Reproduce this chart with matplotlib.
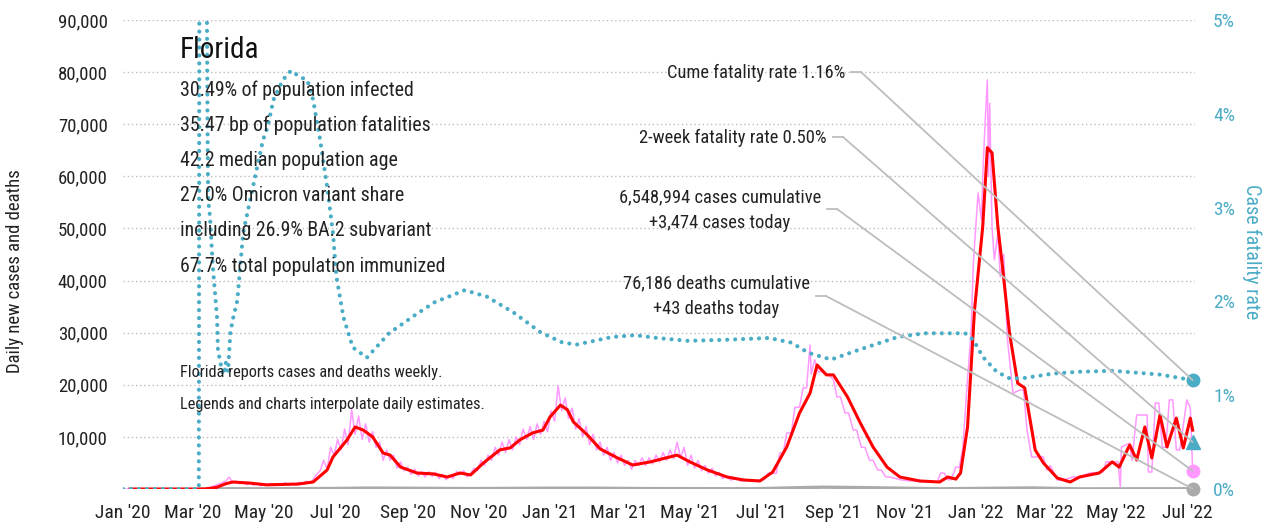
import numpy as np
import pandas as pd
import matplotlib
matplotlib.use('Agg')
import matplotlib.pyplot as plt
from matplotlib import font_manager as fm
from matplotlib.patches import ConnectionPatch
import matplotlib.dates as mdates

# ---------------- data ----------------
START = '2020-01-01'

# 7-day average of daily new cases (red)
avg_day = [6, 70, 80, 88, 94, 108, 123, 150, 163, 175, 180, 192, 199, 206, 214, 223, 229, 238, 252, 266,
           278, 289, 298, 309, 323, 332, 340, 351, 360, 366, 375, 381, 386, 398, 409, 424, 437, 452, 475,
           486, 501, 518, 532, 546, 557, 569, 580, 589, 595, 603, 609, 621, 632, 643, 655, 666, 683, 700,
           707, 714, 718, 724, 730, 737, 741, 745, 750, 754, 760, 767, 773, 782, 789, 801, 812, 820, 837,
           848, 854, 863, 869, 876, 882, 889, 895, 903, 909, 915, 917]
avg_cases = [0, 0, 300, 1000, 1340, 1150, 800, 950, 1340, 3650, 6140, 9400, 11900, 11300, 10000, 6900,
             6500, 4200, 3070, 2900, 2300, 3070, 2700, 5000, 7500, 7900, 9400, 10750, 11300, 13800, 16100,
             15200, 12900, 10400, 7700, 5950, 4600, 5200, 6500, 5200, 3650, 2300, 1730, 1540, 3260, 8060,
             14600, 18400, 23800, 21900, 21900, 17700, 12700, 8060, 4200, 2300, 1540, 1340, 2300, 1900,
             3070, 11900, 34400, 50300, 65500, 64500, 50300, 42600, 29900, 20300, 19400, 7500, 5000, 2100,
             1340, 2300, 3070, 5200, 4200, 8450, 5570, 11900, 5950, 14200, 8060, 13600, 7870, 13600, 11300]

# daily new cases (pink)
daily_day = [0, 60, 70, 75, 80, 84, 88, 91, 94, 97, 100,
             103, 106, 109, 112, 115, 118, 121, 124, 127, 130, 133, 136, 139, 142, 145, 148, 151, 154, 157, 160,
             163, 166, 169, 172, 175, 178, 181, 184, 187, 190, 193, 196, 199, 202, 205, 208,
             211, 214, 217, 220, 223, 226, 229, 232, 235, 238, 241, 244, 247, 250, 253, 256, 259, 262,
             265, 268, 271, 274, 277, 280, 283, 286, 289, 292, 295, 298,
             301, 304, 307, 310, 313, 316, 319, 322, 325, 328, 331, 334, 337, 340, 343, 346, 349, 352, 355, 358, 361, 364,
             367, 370, 373, 376, 379, 382, 385, 388, 391, 394, 397, 400, 403, 406, 409,
             412, 415, 418, 421, 424, 427, 430, 433, 436, 439, 442, 445, 448, 451, 454, 457, 460, 463, 466, 469,
             472, 475, 478, 481, 484, 487, 490, 493, 496, 499, 502, 505, 508, 511, 514,
             517, 521, 525, 530, 535, 540, 545, 550,
             553, 560, 563, 566, 569, 573, 576, 580, 583, 586, 589, 590, 593, 596, 600, 605, 609, 612, 615, 619,
             622, 626, 629, 633, 636, 640, 643, 647, 650, 654, 657, 661, 666, 672, 680, 690, 698, 701, 704, 707,
             710, 714, 717,
             720, 723, 727, 729, 733, 736, 737, 739, 741, 742, 743, 745, 747, 750, 752, 755, 758, 763, 769, 772,
             775, 779, 786, 789, 792, 795, 801, 806, 814, 820, 829, 840, 843, 853, 855, 856, 863, 865, 869, 878,
             879, 882, 885, 888, 891, 894, 897, 900, 903, 906, 912, 915, 917]
daily_cases = [0, 0, 50, 300, 800, 1100, 1500, 2300, 1200, 1500, 1000,
               1300, 800, 1200, 700, 1100, 600, 1000, 700, 1100, 650, 1000, 700, 1200, 750, 1100, 800, 1300, 900, 1500, 1100,
               1800, 2800, 3500, 5500, 3800, 8000, 6500, 9500, 7500, 11500, 8500, 15200, 10500, 14000, 9500, 12500,
               9000, 11000, 8000, 9000, 5500, 7500, 5500, 6500, 4000, 5200, 3500, 4200, 2800, 3800, 2500, 3300, 2300, 3300,
               2400, 3200, 2000, 2800, 1800, 2600, 2000, 3400, 2700, 3500, 2300, 3000,
               4000, 3500, 5500, 4500, 6500, 5500, 8000, 6500, 9000, 7000, 9500, 7500, 10000, 8500, 11500, 9500, 12000, 9500, 12500, 10500, 13000, 11000,
               15000, 13000, 19800, 15000, 17500, 13500, 15500, 11500, 13500, 10000, 12000, 8500, 10500, 7500, 9000,
               6500, 8000, 5500, 7000, 5000, 6500, 4500, 5500, 3800, 5500, 4500, 6000, 4500, 6000, 4800, 6500, 5200, 7000, 5500, 7500,
               5800, 9000, 6000, 8000, 4500, 6500, 4000, 5500, 3500, 4500, 3000, 4000, 2500, 3200, 2000,
               2500, 1700, 2000, 1500, 1800, 1500, 1700, 1800,
               3000, 3000, 6900, 6900, 10750, 10750, 15700, 15700, 19400, 19400, 27600, 22000, 24800, 22500, 22500, 21900, 21000, 17700, 17700, 14600,
               14600, 11300, 11300, 8000, 8000, 5500, 5500, 3650, 3650, 2300, 2300, 2100, 1800, 1600, 1500, 1400, 1300, 3070, 3070, 1800,
               1800, 4200, 4200,
               8000, 18000, 30000, 43400, 56800, 51600, 59900, 70000, 78500, 60000, 74000, 50300, 44000, 49100, 40700, 45000, 29200, 18400, 19000, 19000,
               11300, 6140, 6140, 6140, 3650, 4500, 1730, 1700, 2300, 2300, 3070, 3260, 5200, 5200, 400, 8060, 8800, 5500, 14200, 14200,
               3260, 3260, 16500, 16500, 8000, 8000, 17100, 17100, 7500, 7500, 17100, 15500, 3474]

# daily deaths (gray)
death_day = [65, 90, 120, 180, 210, 240, 300, 360, 400, 450, 540, 600, 640, 700, 750, 780, 820, 917]
daily_deaths = [0, 50, 40, 100, 180, 150, 80, 150, 160, 80, 50, 350, 250, 40, 150, 200, 30, 43]

# case fatality rate, % (teal dotted)
cfr_day = [0, 65, 66, 67, 70, 72, 72.5, 73, 74.6, 77, 80.6, 81.4, 83, 85, 87, 88, 90, 92, 94, 98, 103, 109, 115,
           120, 124, 129, 137, 144, 152, 158, 163, 169, 175, 180, 183, 189, 197, 209, 228, 251, 267, 293, 312,
           335, 358, 377, 389, 419, 439, 458, 484, 515, 554, 573, 588, 607, 630, 664, 687, 722, 729, 737, 749,
           760, 771, 797, 820, 849, 889, 917]
cfr_pct = [0, 0, 12, 20, 9, 5.0, 3.8, 3.08, 2.9, 2.37, 1.83, 1.48, 1.38, 1.25, 1.22, 1.35, 1.25, 1.66, 1.80, 2.01,
           2.73, 3.08, 3.43, 3.72, 3.86, 4.15, 4.36, 4.46, 4.39, 4.36, 4.15, 3.72, 3.22, 2.73, 2.26, 1.83, 1.51,
           1.40, 1.66, 1.86, 1.99, 2.12, 2.05, 1.88, 1.67, 1.56, 1.54, 1.62, 1.64, 1.61, 1.58, 1.59, 1.61, 1.56,
           1.45, 1.38, 1.48, 1.62, 1.66, 1.66, 1.59, 1.41, 1.25, 1.18, 1.18, 1.23, 1.25, 1.26, 1.22, 1.16]

end_cases = 3474
end_deaths = 43
cume_cfr = 1.16
twoweek_cfr = 0.50

info_title = 'Florida'
info_lines = ['30.49% of population infected',
              '35.47 bp of population fatalities',
              '42.2 median population age',
              '27.0% Omicron variant share',
              'including 26.9% BA.2 subvariant',
              '67.7% total population immunized']
note_lines = ['Florida reports cases and deaths weekly.',
              'Legends and charts interpolate daily estimates.']

month_ticks = ['2020-01-01', '2020-03-01', '2020-05-01', '2020-07-01', '2020-09-01', '2020-11-01',
               '2021-01-01', '2021-03-01', '2021-05-01', '2021-07-01', '2021-09-01', '2021-11-01',
               '2022-01-01', '2022-03-01', '2022-05-01', '2022-07-01']
month_labels = ["Jan '20", "Mar '20", "May '20", "Jul '20", "Sep '20", "Nov '20",
                "Jan '21", "Mar '21", "May '21", "Jul '21", "Sep '21", "Nov '21",
                "Jan '22", "Mar '22", "May '22", "Jul '22"]
left_ticks = [10000, 20000, 30000, 40000, 50000, 60000, 70000, 80000, 90000]
right_ticks = [0, 1, 2, 3, 4, 5]

# ---------------- style ----------------
names = {f.name for f in fm.fontManager.ttflist}
FONT = next((c for c in ['Liberation Sans Narrow', 'Roboto Condensed', 'Open Sans Condensed',
                         'Arial Narrow', 'Roboto'] if c in names), 'DejaVu Sans')
plt.rcParams['font.family'] = [FONT, 'DejaVu Sans']

RED = '#ff0000'
PINK = '#ff99ff'
TEAL = '#4bacc6'
GRAY = '#aaaaaa'
LINEGRAY = '#bdbdbd'
TXT = '#222222'

W, H = 1281, 529
fig = plt.figure(figsize=(W / 100, H / 100), dpi=100)
L, R, T, B = 123, 1195, 20, 489
ax = fig.add_axes([L / W, 1 - B / H, (R - L) / W, (B - T) / H])
ax2 = ax.twinx()

t0 = mdates.date2num(pd.Timestamp(START))
def X(days):
    return t0 + np.asarray(days, dtype=float)

def P(px, py):
    return px / W, 1 - py / H

def AF(px, py):
    return (px - L) / (R - L), (B - py) / (B - T)

# lines
ax.plot(X(death_day), daily_deaths, color=GRAY, lw=2.4, zorder=2, solid_capstyle='butt')
ax.plot(X(daily_day), daily_cases, color=PINK, lw=1.1, zorder=3)
ax.plot(X(avg_day), avg_cases, color=RED, lw=2.2, zorder=4, solid_joinstyle='round')
ax2.plot(X(cfr_day), cfr_pct, color=TEAL, lw=3.0, linestyle=(0, (0.01, 1.9)),
         dash_capstyle='round', zorder=3)

xend = X([daily_day[-1]])[0]
ax.plot([xend], [end_deaths], 'o', color=GRAY, ms=9, clip_on=False, zorder=6)
ax.plot([xend], [end_cases], 'o', color=PINK, ms=9, clip_on=False, zorder=6)
ax2.plot([xend], [twoweek_cfr], '^', color=TEAL, ms=10, clip_on=False, zorder=6)
ax2.plot([xend], [cume_cfr], 'o', color=TEAL, ms=9, clip_on=False, zorder=6)

ax.set_xlim(t0, t0 + 919)
ax.set_ylim(0, 90000)
ax2.set_ylim(0, 5)

for a in (ax, ax2):
    for s in a.spines.values():
        s.set_visible(False)

ax.set_xticks(mdates.date2num(pd.to_datetime(month_ticks)))
ax.set_xticklabels(month_labels, fontsize=14, color=TXT)
ax.tick_params(axis='x', length=0, pad=11)
ax.set_yticks(left_ticks)
ax.set_yticklabels([f'{v:,}' for v in left_ticks], fontsize=13.5, color=TXT)
ax.tick_params(axis='y', length=0, pad=11)
ax.yaxis.grid(True, color=LINEGRAY, lw=1, linestyle=(0, (1, 2)))
ax.set_axisbelow(True)

ax2.set_yticks(right_ticks)
ax2.set_yticklabels([f'{v}%' for v in right_ticks], fontsize=14, color=TEAL)
ax2.tick_params(axis='y', length=0, pad=13)

fig.text(*P(15, 271), 'Daily new cases and deaths', rotation=90, ha='center', va='center',
         fontsize=13.5, color=TXT)
fig.text(*P(1252, 252), 'Case fatality rate', rotation=270, ha='center', va='center',
         fontsize=14.5, color=TEAL)

# info block
fig.text(*P(180, 50), info_title, fontsize=21, ha='left', va='center', color='#111111')
for i, line in enumerate(info_lines):
    fig.text(*P(180, 90 + i * 35.2), line, fontsize=14.3, ha='left', va='center', color=TXT)
for i, line in enumerate(note_lines):
    fig.text(*P(180, 373 + i * 32), line, fontsize=11.8, ha='left', va='center', color=TXT)

# annotations
annots = [
    ('Cume fatality rate 1.16%', 845, 73, 72, ax2, cume_cfr),
    ('2-week fatality rate 0.50%', 827, 138, 137, ax2, twoweek_cfr),
    (f'6,548,994 cases cumulative\n+{end_cases:,} cases today', 821, 210, 209, ax, end_cases),
    (f'76,186 deaths cumulative\n+{end_deaths} deaths today', 810, 296, 296, ax, end_deaths),
]
for text, rx, ty, ly, a, yv in annots:
    ax.text(*AF(rx, ty), text, transform=ax.transAxes, ha='right', va='center',
            multialignment='center', fontsize=13.3, color=TXT, linespacing=1.5)
    x1, _ = AF(rx + 6, ly)
    x2, yy = AF(rx + 16, ly)
    ax.plot([x1, x2], [yy, yy], transform=ax.transAxes, color=LINEGRAY, lw=1.3, clip_on=False, zorder=1)
    cp = ConnectionPatch(xyA=(x2, yy), coordsA=ax.transAxes, xyB=(xend, yv), coordsB=a.transData,
                         color=LINEGRAY, lw=1.3, zorder=1)
    fig.add_artist(cp)

fig.savefig('out.png', dpi=100)
